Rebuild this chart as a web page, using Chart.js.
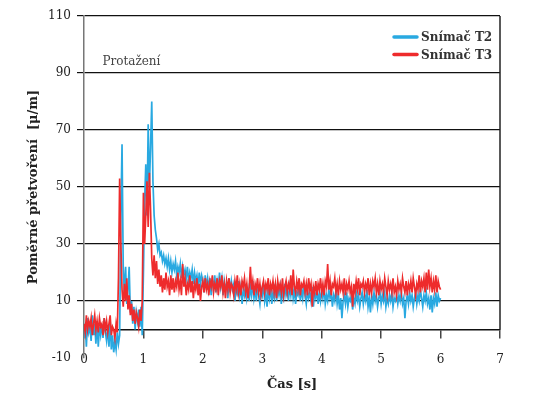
<!DOCTYPE html>
<html>
<head>
<meta charset="utf-8">
<script src="https://cdn.jsdelivr.net/npm/chart.js@4.4.1/dist/chart.umd.min.js"></script>
<style>
html, body { margin: 0; padding: 0; background: #fff; }
</style>
</head>
<body>
<canvas id="strainChart" width="540" height="396"></canvas>
<script>
// sampling step of the recorded signal [s]
const dt = 0.02;

const seriesNames = ['Snímač T2', 'Snímač T3'];
const seriesColors = ['#29a9e1', '#ee2b2c'];

// Snímač T2, 0 .. 6 s
const t2 = [
  -3, 2, -6, 4, -1,   1, -4, 5, -2, 2,   -5, 3, -6, 1, -2,   2, -3, 4, -1, -4,
  1, -6, 3, -7, -2,   -8, -4, -7, -1, -5,   -2, 40, 65, 22, 12,   22, 9, 14, 22, 6,
  10, 2, 8, 0, 6,   3, 7, 1, 8, -2,   20, 45, 58, 40, 72,   50, 64, 80, 52, 40,
  35, 32, 28, 30, 26,   27, 24, 26, 23, 25,   22, 25, 21, 24, 20,   23, 21, 24, 19, 22,
  20, 23, 18, 22, 19,   21, 18, 22, 17, 20,   18, 21, 16, 20, 17,   19, 15, 20, 16, 19,
  17, 13, 19, 15, 18,   14, 18, 12, 17, 15,   19, 13, 17, 14, 20,   15, 18, 12, 17, 14,
  16, 11, 18, 13, 17,   14, 16, 10, 15, 13,   17, 12, 15, 9, 14,   12, 16, 11, 14, 10,
  15, 12, 17, 11, 14,   10, 15, 12, 9, 14,   12, 16, 10, 13, 8,   14, 11, 15, 9, 13,
  11, 16, 10, 14, 12,   15, 9, 13, 11, 16,   12, 14, 10, 15, 12,   17, 11, 14, 9, 13,
  12, 15, 10, 14, 11,   16, 12, 9, 14, 11,   13, 10, 15, 8, 13,   11, 14, 9, 13, 10,
  14, 11, 15, 9, 12,   10, 14, 11, 13, 8,   12, 10, 14, 9, 12,   7, 11, 4, 10, 12,
  9, 13, 8, 11, 10,   12, 7, 11, 9, 13,   10, 12, 8, 11, 13,   9, 12, 10, 14, 8,
  11, 6, 12, 9, 13,   10, 12, 8, 11, 13,   9, 12, 10, 13, 8,   11, 9, 12, 10, 13,
  8, 11, 10, 12, 9,   12, 10, 13, 9, 11,   4, 10, 12, 9, 13,   10, 12, 8, 11, 13,
  9, 12, 10, 14, 11,   8, 12, 10, 13, 9,   11, 7, 12, 6, 11,   9, 13, 8, 12, 10,
  11
];

// Snímač T3, 0 .. 6 s
const t3 = [
  2, -1, 5, 0, 3,   1, 4, -2, 2, 5,   0, 3, -1, 4, 1,   2, -2, 4, 0, 3,
  -1, 2, 5, -2, 1,   0, -3, 2, -1, 18,   53, 30, 14, 8, 16,   10, 18, 7, 12, 5,
  9, 3, 7, 2, 6,   4, 1, 7, 3, 10,   48, 30, 40, 52, 36,   55, 42, 25, 19, 26,
  18, 24, 16, 21, 15,   19, 13, 18, 14, 20,   15, 17, 12, 19, 14,   18, 13, 17, 15, 20,
  14, 17, 12, 23, 15,   18, 12, 16, 14, 19,   13, 17, 11, 16, 14,   18, 12, 16, 10, 15,
  17, 13, 18, 14, 16,   12, 17, 15, 19, 13,   16, 14, 18, 12, 17,   15, 19, 13, 16, 11,
  17, 14, 18, 13, 16,   15, 12, 17, 14, 19,   13, 16, 12, 17, 15,   18, 13, 16, 11, 15,
  22, 14, 17, 12, 16,   14, 18, 13, 16, 12,   15, 17, 13, 16, 14,   18, 12, 16, 14, 17,
  13, 16, 11, 17, 14,   16, 13, 18, 12, 15,   17, 13, 16, 14, 19,   12, 21, 15, 13, 17,
  14, 18, 12, 16, 15,   17, 13, 16, 12, 18,   14, 16, 8, 15, 13,   17, 12, 16, 14, 18,
  13, 16, 12, 17, 15,   23, 14, 17, 12, 16,   15, 18, 13, 16, 12,   17, 14, 16, 13, 18,
  12, 16, 14, 17, 13,   15, 8, 16, 13, 17,   14, 18, 12, 16, 15,   17, 13, 16, 14, 18,
  12, 16, 13, 17, 15,   18, 13, 16, 12, 17,   14, 16, 13, 18, 15,   12, 17, 14, 16, 13,
  18, 13, 15, 12, 17,   14, 16, 13, 18, 15,   13, 17, 12, 16, 14,   17, 13, 18, 15, 12,
  16, 14, 19, 13, 17,   15, 18, 13, 20, 14,   21, 15, 18, 13, 17,   14, 19, 13, 17, 15,
  14
];

const xTicks = [0, 1, 2, 3, 4, 5, 6, 7];
const yTicks = [-10, 10, 30, 50, 70, 90, 110];

const noteText = 'Protažení';
const noteAt = [0.31, 94];

const serif = '"DejaVu Serif", "Liberation Serif", serif';

function toPoints(values) {
    return values.map((v, i) => ({ x: +(i * dt).toFixed(2), y: v }));
}

// legend inside the plot, note text and the right frame line
const extras = {
    id: 'extras',
    afterDatasetsDraw(chart) {
        const { ctx, chartArea, scales } = chart;
        const x = scales.x;
        const y = scales.y;
        ctx.save();

        ctx.strokeStyle = '#222';
        ctx.lineWidth = 1.5;
        ctx.beginPath();
        ctx.moveTo(chartArea.right, chartArea.top);
        ctx.lineTo(chartArea.right, y.getPixelForValue(0));
        ctx.stroke();

        ctx.font = '12px ' + serif;
        ctx.fillStyle = '#444';
        ctx.textAlign = 'left';
        ctx.textBaseline = 'middle';
        ctx.fillText(noteText, x.getPixelForValue(noteAt[0]), y.getPixelForValue(noteAt[1]));

        ctx.font = 'bold 12px ' + serif;
        ctx.fillStyle = '#333';
        ctx.lineCap = 'round';
        ctx.lineWidth = 3.5;
        seriesNames.forEach((name, i) => {
            const ly = chartArea.top + 21 + i * 17.5;
            ctx.strokeStyle = seriesColors[i];
            ctx.beginPath();
            ctx.moveTo(chartArea.right - 106, ly);
            ctx.lineTo(chartArea.right - 83, ly);
            ctx.stroke();
            ctx.fillText(name, chartArea.right - 79, ly + 1);
        });

        ctx.restore();
    }
};

const ctx = document.getElementById('strainChart').getContext('2d');

const strainChart = new Chart(ctx, {
    type: 'line',
    data: {
        datasets: [
            {
                label: seriesNames[0],
                data: toPoints(t2),
                borderColor: seriesColors[0],
                borderWidth: 1.7,
                pointRadius: 0,
                order: 2
            },
            {
                label: seriesNames[1],
                data: toPoints(t3),
                borderColor: seriesColors[1],
                borderWidth: 1.7,
                pointRadius: 0,
                order: 1
            }
        ]
    },
    options: {
        responsive: false,
        animation: false,
        layout: {
            padding: { top: 16, right: 40, bottom: 38, left: 0 }
        },
        plugins: {
            legend: { display: false },
            tooltip: { enabled: false }
        },
        scales: {
            x: {
                type: 'linear',
                min: 0,
                max: 7,
                position: { y: 0 },
                afterBuildTicks: (scale) => {
                    scale.ticks = xTicks.map(v => ({ value: v }));
                },
                ticks: {
                    color: '#222',
                    padding: 15,
                    maxRotation: 0,
                    font: { family: serif, size: 12 }
                },
                grid: {
                    drawOnChartArea: false,
                    drawTicks: true,
                    tickLength: 8,
                    color: '#444',
                    lineWidth: 1.5
                },
                border: { display: true, color: '#111', width: 1.5 },
                title: {
                    display: true,
                    text: 'Čas [s]',
                    color: '#222',
                    padding: { top: -5, bottom: 0 },
                    font: { family: serif, size: 13, weight: 'bold' }
                }
            },
            y: {
                min: -10,
                max: 110,
                afterFit: (scale) => {
                    scale.width = 84;
                },
                afterBuildTicks: (scale) => {
                    scale.ticks = yTicks.map(v => ({ value: v }));
                },
                ticks: {
                    color: '#222',
                    padding: 6,
                    font: { family: serif, size: 12 }
                },
                grid: {
                    color: (c) => (c.tick && c.tick.value === -10) ? 'rgba(0,0,0,0)' : '#111',
                    lineWidth: 1.2,
                    tickLength: 7
                },
                border: { display: true, color: '#777', width: 1.5 },
                title: {
                    display: true,
                    text: 'Poměrné přetvoření  [μ/m]',
                    color: '#222',
                    padding: { top: 26, bottom: 0 },
                    font: { family: serif, size: 13, weight: 'bold' }
                }
            }
        }
    },
    plugins: [extras]
});
</script>
</body>
</html>
